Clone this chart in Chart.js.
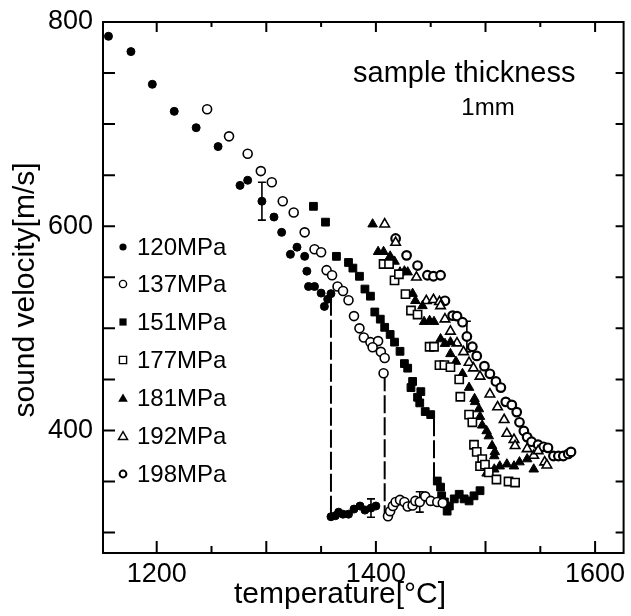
<!DOCTYPE html>
<html>
<head>
<meta charset="utf-8">
<script src="https://cdn.jsdelivr.net/npm/chart.js@4"></script>
<style>
  body { margin: 0; background: #fff; }
</style>
</head>
<body>
<canvas id="soundChart" width="631" height="616"></canvas>
<script>
// pressures shown in the legend
const seriesNames = ["120MPa", "137MPa", "151MPa", "177MPa", "181MPa", "192MPa", "198MPa"];

// [temperature (°C), sound velocity (m/s)]
const p120 = [[1156, 786], [1176.5, 771], [1196, 739], [1216, 712.5], [1236, 696.5], [1256, 678], [1276, 640],
  [1283, 645], [1296, 624.5], [1307, 609], [1314, 594], [1322, 572.5], [1328, 579.5], [1335, 570.5], [1337, 556],
  [1338.5, 541], [1344, 541], [1350, 534.5], [1353, 521.5], [1356, 528.5], [1359, 534],
  [1359, 315.5], [1363, 316.5], [1366, 320], [1370, 318], [1375, 318], [1380, 323], [1385.5, 326], [1390, 322],
  [1395.5, 324], [1400, 326]];
const p137 = [[1246, 714.5], [1266, 688], [1283, 671], [1295, 654], [1305, 643], [1315, 624.5], [1325, 613.5],
  [1335, 594], [1344, 577.5], [1350, 574.5], [1355, 557], [1360, 552], [1365, 541], [1370, 536.5], [1375, 527.5],
  [1380, 512], [1385, 500], [1389, 491], [1395, 486.5], [1402, 487.5], [1397, 481.5], [1404.5, 477], [1408, 471],
  [1407, 456],
  [1411, 316], [1413, 321], [1415.5, 326], [1418, 330], [1422, 332], [1426, 330], [1429, 325.5], [1433.5, 326.5],
  [1436, 331], [1440, 330], [1445, 335.5], [1450, 331], [1456, 330], [1461, 329]];
const p151 = [[1343, 619.5], [1354, 604], [1364, 570.5], [1375, 564.5], [1379, 559], [1385, 551], [1390, 538.5],
  [1395, 531.5], [1399, 516], [1404, 509], [1408, 501], [1413, 494], [1417, 486.5], [1422, 477.5], [1426, 465.5],
  [1429, 461], [1433.5, 448], [1432, 442], [1441, 438], [1438, 432.5], [1440, 427], [1445, 418.5], [1450, 415.5],
  [1456, 350.5], [1459, 344.5], [1460, 336], [1462.5, 330], [1465, 321], [1467, 326], [1471.5, 333], [1476, 337.5],
  [1480.5, 333], [1485, 331], [1489.5, 336], [1495, 341]];
const p177 = [[1407, 563], [1412, 563], [1417, 547], [1421, 553], [1427, 533.5], [1432, 517.5], [1438, 513.5],
  [1449, 482], [1453, 482], [1458, 464], [1462.5, 464], [1468, 462], [1476, 450], [1477, 433], [1485, 415.5],
  [1488, 408], [1489.5, 386], [1492, 379], [1497, 372], [1495, 365], [1499.5, 366.5], [1503, 359], [1510, 352],
  [1521, 350], [1527, 349]];
const p181 = [[1397, 602], [1402, 575], [1407, 575], [1413, 570.5], [1417, 565.5], [1422, 555], [1426, 556],
  [1429, 555], [1433.5, 534], [1436, 527], [1442.5, 522], [1444, 506.5], [1449, 507.5], [1453, 506.5],
  [1459, 489.5], [1463, 485], [1468, 486.5], [1468, 475], [1473, 467.5], [1479, 455.5], [1485, 442], [1490, 431],
  [1490.5, 428], [1494, 421], [1495, 413.5], [1497, 405], [1501, 399.5], [1503, 394.5], [1506, 385],
  [1508.5, 379], [1508, 375], [1501, 358], [1508, 362], [1513, 365], [1519.5, 367], [1526, 365], [1531, 369],
  [1538, 372], [1544, 362]];
const p192 = [[1408, 602], [1418, 584], [1437, 550], [1446, 527], [1452.5, 528], [1458, 526], [1459, 522],
  [1463, 509], [1468, 497], [1474, 485.5], [1480, 477], [1485, 466.5], [1489, 461], [1495, 453], [1504, 435.5],
  [1511, 423], [1517, 410.5], [1519.5, 397], [1526, 391], [1527, 385], [1538, 382], [1544, 375.5], [1548, 380],
  [1554, 369], [1556, 366]];
const p198 = [[1418, 588], [1428, 571.5], [1438, 561.5], [1447, 552], [1452.5, 551], [1459, 552], [1463, 527],
  [1470, 512.5], [1474, 512], [1479, 506], [1483, 492], [1488, 482], [1492, 473], [1499, 463], [1504, 455.5],
  [1509.5, 448], [1514, 442], [1518.5, 428], [1524, 425], [1528.5, 418], [1531, 408], [1535, 399.5], [1538, 393.5],
  [1542, 389], [1548, 386], [1553, 384], [1557, 383], [1562, 375], [1566.5, 375], [1571, 375], [1575.5, 377],
  [1578, 379]];

// vertical dashed drops: [temperature, from velocity, to velocity]
const drops = [[1359, 530, 316], [1408, 456, 316], [1453, 412, 350]];
// error bars: [temperature, low, high]
const errorBars = [[1296, 606, 643], [1395.5, 315, 333], [1440, 320, 340], [1483, 477, 507]];

const xTickLabels = [1200, 1400, 1600];
const yTickLabels = [400, 600, 800];

const toXY = (arr) => arr.map((p) => ({ x: p[0], y: p[1] }));
const FONT = "'Liberation Sans', Arial, sans-serif";

// marker looks for the legend, same order as seriesNames
const legendMarks = [
  { shape: "circle", fill: true, r: 3.6 },
  { shape: "circle", fill: false, r: 3.6, lw: 1.4 },
  { shape: "rect", fill: true, r: 3.6 },
  { shape: "rect", fill: false, r: 3.6, lw: 1.4 },
  { shape: "triangle", fill: true, r: 4.4 },
  { shape: "triangle", fill: false, r: 4.2, lw: 1.4 },
  { shape: "circle", fill: false, r: 3.4, lw: 2 },
];
const legendRows = [247, 284, 322, 360, 398, 436, 474];

function drawMark(ctx, m, x, y) {
  ctx.beginPath();
  if (m.shape === "circle") {
    ctx.arc(x, y, m.r, 0, Math.PI * 2);
  } else if (m.shape === "rect") {
    ctx.rect(x - m.r, y - m.r, m.r * 2, m.r * 2);
  } else {
    ctx.moveTo(x, y - m.r * 1.05);
    ctx.lineTo(x + m.r * 1.1, y + m.r * 0.85);
    ctx.lineTo(x - m.r * 1.1, y + m.r * 0.85);
    ctx.closePath();
  }
  if (m.fill) {
    ctx.fillStyle = "#000";
    ctx.fill();
  } else {
    ctx.fillStyle = "#fff";
    ctx.fill();
    ctx.lineWidth = m.lw;
    ctx.strokeStyle = "#000";
    ctx.stroke();
  }
}

const decorPlugin = {
  id: "decor",
  beforeDatasetsDraw(chart) {
    const { ctx, scales: { x, y } } = chart;
    ctx.save();
    ctx.strokeStyle = "#000";
    ctx.lineWidth = 1.6;
    errorBars.forEach(([t, lo, hi]) => {
      const px = x.getPixelForValue(t);
      const y1 = y.getPixelForValue(lo);
      const y2 = y.getPixelForValue(hi);
      ctx.beginPath();
      ctx.moveTo(px, y1);
      ctx.lineTo(px, y2);
      ctx.moveTo(px - 4, y1);
      ctx.lineTo(px + 4, y1);
      ctx.moveTo(px - 4, y2);
      ctx.lineTo(px + 4, y2);
      ctx.stroke();
    });
    ctx.restore();
  },
  afterDraw(chart) {
    const { ctx, chartArea: a, scales: { x, y } } = chart;
    ctx.save();
    ctx.strokeStyle = "#000";
    ctx.lineWidth = 2;
    ctx.strokeRect(a.left, a.top, a.right - a.left, a.bottom - a.top);

    // inward tick marks on all four sides
    ctx.beginPath();
    for (let v = 1200; v <= 1600; v += 50) {
      const px = x.getPixelForValue(v);
      const len = v % 100 === 0 ? 12 : 7;
      ctx.moveTo(px, a.bottom);
      ctx.lineTo(px, a.bottom - len);
      ctx.moveTo(px, a.top);
      ctx.lineTo(px, a.top + len - 2);
    }
    for (let v = 300; v <= 800; v += 50) {
      const py = y.getPixelForValue(v);
      ctx.moveTo(a.left, py);
      ctx.lineTo(a.left + 12, py);
      ctx.moveTo(a.right, py);
      ctx.lineTo(a.right - 8, py);
    }
    ctx.stroke();

    // legend inside the plot
    ctx.font = "24px " + FONT;
    ctx.textBaseline = "middle";
    ctx.textAlign = "left";
    seriesNames.forEach((name, i) => {
      drawMark(ctx, legendMarks[i], 123, legendRows[i]);
      ctx.fillStyle = "#000";
      ctx.fillText(name, 137, legendRows[i] + 1);
    });

    // annotation
    ctx.textBaseline = "alphabetic";
    ctx.font = "29px " + FONT;
    ctx.fillText("sample thickness", 353, 82);
    ctx.font = "24px " + FONT;
    ctx.textAlign = "center";
    ctx.fillText("1mm", 488, 115);

    // axis titles
    ctx.font = "30px " + FONT;
    ctx.fillText("temperature[°C]", 340, 603);
    ctx.translate(34, 290);
    ctx.rotate(-Math.PI / 2);
    ctx.fillText("sound velocity[m/s]", 0, 0);
    ctx.restore();
  },
};

const datasets = [
  { label: seriesNames[0], data: toXY(p120), pointStyle: "circle", pointRadius: 4,
    backgroundColor: "#000", borderColor: "#000", borderWidth: 1 },
  { label: seriesNames[1], data: toXY(p137), pointStyle: "circle", pointRadius: 4.5,
    backgroundColor: "#fff", borderColor: "#000", borderWidth: 1.6 },
  { label: seriesNames[2], data: toXY(p151), pointStyle: "rect", pointRadius: 5.5,
    backgroundColor: "#000", borderColor: "#000", borderWidth: 1 },
  { label: seriesNames[3], data: toXY(p177), pointStyle: "rect", pointRadius: 5.8,
    backgroundColor: "#fff", borderColor: "#000", borderWidth: 1.6 },
  { label: seriesNames[4], data: toXY(p181), pointStyle: "triangle", pointRadius: 5.5,
    backgroundColor: "#000", borderColor: "#000", borderWidth: 1 },
  { label: seriesNames[5], data: toXY(p192), pointStyle: "triangle", pointRadius: 5.5,
    backgroundColor: "#fff", borderColor: "#000", borderWidth: 1.6 },
  { label: seriesNames[6], data: toXY(p198), pointStyle: "circle", pointRadius: 4.3,
    backgroundColor: "#fff", borderColor: "#000", borderWidth: 2.2 },
];

drops.forEach(([t, from, to]) => {
  datasets.push({
    type: "line",
    label: "drop",
    data: [{ x: t, y: from }, { x: t, y: to }],
    showLine: true,
    pointRadius: 0,
    borderColor: "#000",
    borderWidth: 2,
    borderDash: [18, 4],
  });
});

const ctx = document.getElementById("soundChart").getContext("2d");

new Chart(ctx, {
  type: "scatter",
  data: { datasets: datasets },
  options: {
    responsive: false,
    devicePixelRatio: 1,
    animation: false,
    layout: { padding: { top: 22, right: 2, left: 0, bottom: 0 } },
    plugins: {
      legend: { display: false },
      tooltip: { enabled: false },
    },
    scales: {
      x: {
        type: "linear",
        min: 1151,
        max: 1626,
        border: { display: false },
        grid: { display: false, drawTicks: false },
        ticks: {
          stepSize: 50,
          includeBounds: false,
          autoSkip: false,
          maxRotation: 0,
          padding: 5,
          color: "#000",
          font: { family: FONT, size: 27 },
          callback: (v) => (xTickLabels.includes(v) ? String(v) : ""),
        },
        afterFit: (s) => {
          s.height = 63;
          s.paddingLeft = 0;
          s.paddingRight = 0;
        },
      },
      y: {
        type: "linear",
        min: 280,
        max: 800,
        border: { display: false },
        grid: { display: false, drawTicks: false },
        ticks: {
          stepSize: 50,
          includeBounds: false,
          autoSkip: false,
          padding: 10,
          color: "#000",
          font: { family: FONT, size: 27 },
          callback: (v) => (yTickLabels.includes(v) ? String(v) : ""),
        },
        afterFit: (s) => {
          s.width = 103;
          s.paddingTop = 0;
          s.paddingBottom = 0;
        },
      },
    },
  },
  plugins: [decorPlugin],
});
</script>
</body>
</html>
